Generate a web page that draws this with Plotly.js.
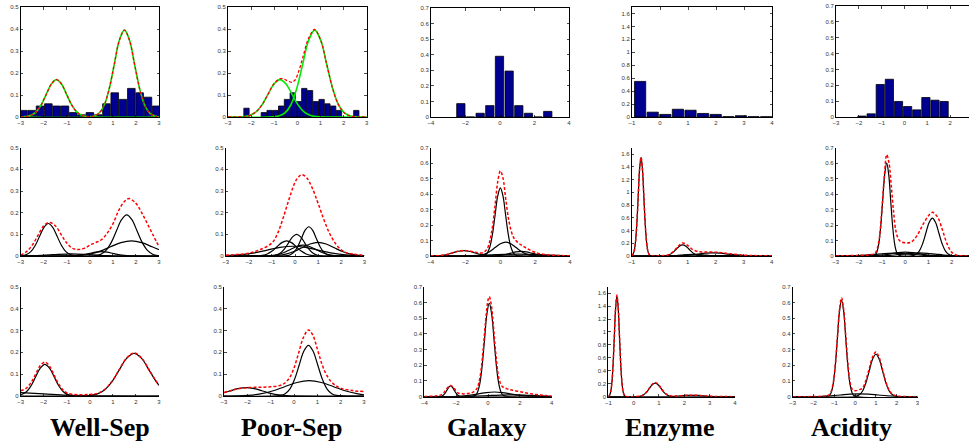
<!DOCTYPE html>
<html><head><meta charset="utf-8">
<script src="https://cdn.plot.ly/plotly-3.0.1.min.js"></script>
<style>html,body{margin:0;padding:0;background:#fff;}#chart{width:969px;height:441px;}</style>
</head><body><div id="chart"></div>
<script>
// ================= DATA =================
const titles = ["Well-Sep", "Poor-Sep", "Galaxy", "Enzyme", "Acidity"];

// ---- Row 1: histograms + true components ----
const wsHistX = [-2.88,-2.52,-2.16,-1.80,-1.44,-1.08,-0.72,-0.36,0,0.36,0.72,1.08,1.44,1.80,2.16,2.52,2.88];
const wsHistY = [0.03,0.03,0.05,0.06,0.05,0.05,0.02,0.01,0.02,0.01,0.06,0.11,0.08,0.13,0.11,0.09,0.05];
const wsG1X = [-3,-2.77,-2.55,-2.33,-2.11,-1.89,-1.67,-1.45,-1.23,-1.01,-0.79,-0.57,-0.35,-0.13,3];
const wsG1Y = [0.0003,0.0019,0.0075,0.0230,0.0552,0.1031,0.1500,0.17,0.1500,0.1031,0.0552,0.0230,0.0075,0.0019,0];
const wsG2X = [-3,0.18,0.40,0.62,0.84,1.06,1.28,1.5,1.72,1.94,2.16,2.38,2.60,2.82,3];
const wsG2Y = [0,0.0044,0.0173,0.0534,0.1283,0.2396,0.3486,0.395,0.3486,0.2396,0.1283,0.0534,0.0173,0.0044,0.0012];
const wsTrueX = [-3,-2.77,-2.55,-2.33,-2.11,-1.89,-1.67,-1.45,-1.23,-1.01,-0.79,-0.57,-0.35,-0.13,0.18,0.40,0.62,0.84,1.06,1.28,1.5,1.72,1.94,2.16,2.38,2.60,2.82,3];
const wsTrueY = [0.0003,0.0019,0.0075,0.0230,0.0552,0.1031,0.1500,0.17,0.1500,0.1031,0.0552,0.0230,0.0075,0.0020,0.0045,0.0173,0.0534,0.1283,0.2396,0.3486,0.395,0.3486,0.2396,0.1283,0.0534,0.0173,0.0044,0.0012];

const psHistX = [-2.2,-1.45,-1.2,-0.95,-0.7,-0.45,-0.2,0.05,0.3,0.55,0.8,1.05,1.3,1.55,1.8,2.55];
const psHistY = [0.04,0.02,0.03,0.03,0.05,0.08,0.11,0.07,0.13,0.12,0.07,0.08,0.06,0.05,0.03,0.03];
const psG1X = [-3,-2.31,-2.05,-1.79,-1.53,-1.27,-1.01,-0.75,-0.49,-0.23,0.03,0.29,0.55,0.81,3];
const psG1Y = [0,0.0019,0.0075,0.0230,0.0552,0.1031,0.1500,0.17,0.1500,0.1031,0.0552,0.0230,0.0075,0.0019,0];
const psG2X = [-3,-0.81,-0.55,-0.29,-0.03,0.23,0.49,0.75,1.01,1.27,1.53,1.79,2.05,2.31,3];
const psG2Y = [0,0.0044,0.0173,0.0534,0.1283,0.2396,0.3486,0.395,0.3486,0.2396,0.1283,0.0534,0.0173,0.0044,0];
const psTrueX = [-3,-2.31,-2.05,-1.79,-1.53,-1.27,-1.01,-0.75,-0.55,-0.4,-0.25,-0.1,0.05,0.23,0.49,0.75,1.01,1.27,1.53,1.79,2.05,2.31,3];
const psTrueY = [0,0.0019,0.0075,0.023,0.0552,0.1033,0.1513,0.174,0.171,0.163,0.158,0.168,0.205,0.268,0.3586,0.3977,0.3491,0.2396,0.1283,0.0534,0.0173,0.0044,0];

const gaHistX = [-2.27,-1.71,-1.15,-0.59,-0.03,0.53,1.09,1.65,2.21,2.77];
const gaHistY = [0.086,0,0.024,0.073,0.39,0.295,0.073,0.024,0,0.036];

const enHistX = [-0.71,-0.26,0.19,0.64,1.09,1.54,1.99,2.44,2.89,3.34,3.79];
const enHistY = [0.55,0.075,0.04,0.12,0.105,0.055,0.04,0.005,0.02,0.005,0.004];

const acHistX = [-1.86,-1.46,-1.06,-0.66,-0.26,0.14,0.54,0.94,1.34,1.74];
const acHistY = [0.006,0.02,0.205,0.238,0.098,0.066,0.045,0.123,0.106,0.098];

// ---- Row 2: first fitted mixture (red = density, black = components) ----
const ws2RedX = [-3,-2.75,-2.5,-2.25,-2,-1.75,-1.5,-1.25,-1,-0.75,-0.5,-0.25,0,0.25,0.5,0.75,1,1.25,1.5,1.7,2,2.25,2.5,2.75,3];
const ws2RedY = [0.005,0.02,0.05,0.095,0.14,0.155,0.14,0.10,0.06,0.035,0.03,0.035,0.05,0.062,0.075,0.105,0.148,0.21,0.252,0.265,0.243,0.2,0.148,0.095,0.043];
const ws2AX = [-3,-2.75,-2.56,-2.37,-2.18,-1.99,-1.8,-1.61,-1.42,-1.23,-1.04,-0.85,-0.66,3];
const ws2AY = [0.001,0.0066,0.0203,0.0487,0.0910,0.1324,0.15,0.1324,0.0910,0.0487,0.0203,0.0066,0.0017,0];
const ws2BX = [-3,0.25,0.475,0.7,0.925,1.15,1.375,1.6,1.825,2.05,2.275,2.5,2.725,2.95,3];
const ws2BY = [0,0.0021,0.0083,0.0257,0.0617,0.1152,0.1677,0.19,0.1677,0.1152,0.0617,0.0257,0.0083,0.0021,0.0017];
const ws2CX = [-3,-0.9,-0.45,0,0.45,0.9,1.35,1.8,2.25,2.7,3];
const ws2CY = [0,0.0008,0.0031,0.0095,0.0227,0.0425,0.0618,0.07,0.0618,0.0425,0.0288];
const ws2DX = [-3,-1,-0.75,-0.5,-0.25,0,0.25,0.5,0.75,1,1.25,1.5,1.75,2,3];
const ws2DY = [0,0.0002,0.0009,0.0027,0.0065,0.0121,0.0176,0.02,0.0176,0.0121,0.0065,0.0027,0.0009,0.0002,0];
const ws2EX = [-3,-2.4,-1.6,-0.8,0,0.8,1.6,3];
const ws2EY = [0.0002,0.0014,0.0061,0.01,0.0061,0.0014,0.0002,0];

const ps2RedX = [-3,-2.5,-2,-1.5,-1,-0.75,-0.5,-0.25,0,0.15,0.3,0.5,0.75,1,1.25,1.5,1.75,2,2.25,2.5,3];
const ps2RedY = [0.004,0.007,0.013,0.03,0.06,0.105,0.18,0.265,0.34,0.365,0.375,0.362,0.313,0.243,0.168,0.104,0.058,0.029,0.014,0.009,0.003];
const ps2K1X = [-3,-0.36,-0.2,-0.04,0.12,0.28,0.44,0.6,0.76,0.92,1.08,1.24,1.40,1.56,3];
const ps2K1Y = [0,0.0015,0.0059,0.0183,0.0438,0.0819,0.1191,0.135,0.1191,0.0819,0.0438,0.0183,0.0059,0.0015,0];
const ps2K2X = [-3,-0.98,-0.805,-0.63,-0.455,-0.28,-0.105,0.07,0.245,0.42,0.595,0.77,0.945,1.12,3];
const ps2K2Y = [0,0.0011,0.0044,0.0135,0.0325,0.0607,0.0883,0.10,0.0883,0.0607,0.0325,0.0135,0.0044,0.0011,0];
const ps2K3X = [-3,-1.62,-1.41,-1.2,-0.99,-0.78,-0.57,-0.36,-0.15,0.06,0.27,0.48,0.69,0.90,3];
const ps2K3Y = [0,0.0008,0.0031,0.0095,0.0227,0.0425,0.0618,0.07,0.0618,0.0425,0.0227,0.0095,0.0031,0.0008,0];
const ps2K4X = [-3,-1.1,-0.75,-0.4,-0.05,0.3,0.65,1.0,1.35,1.7,2.05,2.4,2.75,3];
const ps2K4Y = [0,0.0007,0.0028,0.0085,0.0205,0.0382,0.0556,0.063,0.0556,0.0382,0.0205,0.0085,0.0028,0.0011];
const ps2K5X = [-3,-2.3,-1.75,-1.2,-0.65,-0.1,0.45,1.0,1.55,2.1,2.65,3];
const ps2K5Y = [0.0014,0.0061,0.0146,0.0273,0.0397,0.045,0.0397,0.0273,0.0146,0.0061,0.002,0.0008];
const ps2K6X = [-3,-1.3,-1.025,-0.75,-0.475,-0.2,0.075,0.35,0.625,0.9,1.175,1.45,1.725,2.0,3];
const ps2K6Y = [0,0.0006,0.0022,0.0068,0.0162,0.0303,0.0441,0.05,0.0441,0.0303,0.0162,0.0068,0.0022,0.0006,0];

const ga2RedX = [-4,-3.5,-3,-2.5,-2.1,-1.7,-1.3,-1,-0.75,-0.5,-0.3,-0.15,0,0.15,0.3,0.5,0.75,1,1.25,1.5,2,2.5,3,3.5,4];
const ga2RedY = [0.001,0.0024,0.0117,0.0288,0.0364,0.0308,0.0207,0.0217,0.0479,0.1555,0.331,0.48,0.55,0.505,0.3774,0.2214,0.1216,0.0876,0.0674,0.0501,0.0235,0.0102,0.0052,0.003,0.0016];
const ga2AX = [-4,-0.9,-0.75,-0.6,-0.45,-0.3,-0.15,0,0.15,0.3,0.45,0.6,0.75,0.9,4];
const ga2AY = [0,0.0049,0.0193,0.0595,0.1429,0.2669,0.3883,0.44,0.3883,0.2669,0.1429,0.0595,0.0193,0.0049,0];
const ga2BX = [-4,-1.5,-1.2,-0.9,-0.6,-0.3,0,0.3,0.6,0.9,1.2,1.5,1.8,2.1,4];
const ga2BY = [0,0.001,0.004,0.0122,0.0292,0.0546,0.0794,0.09,0.0794,0.0546,0.0292,0.0122,0.004,0.001,0];
const ga2CX = [-4,-3.6,-3.3,-3,-2.7,-2.4,-2.1,-1.8,-1.5,-1.2,-0.9,-0.6,-0.3,4];
const ga2CY = [0.0002,0.0015,0.0047,0.0114,0.0212,0.0309,0.035,0.0309,0.0212,0.0114,0.0047,0.0015,0.0004,0];
const ga2DX = [-4,-0.6,-0.3,0,0.3,0.6,0.9,1.2,1.5,1.8,2.1,2.4,2.7,3,4];
const ga2DY = [0,0.0003,0.0013,0.0041,0.0097,0.0182,0.0265,0.03,0.0265,0.0182,0.0097,0.0041,0.0013,0.0003,0];
const ga2EX = [-4,-3.5,-2.75,-2,-1.25,-0.5,0.25,1,1.75,2.5,3.25,4];
const ga2EY = [0,0.0001,0.0005,0.0016,0.0039,0.0073,0.0106,0.012,0.0106,0.0073,0.0039,0.0016];

const en2RedX = [-1,-0.967,-0.917,-0.867,-0.817,-0.767,-0.717,-0.667,-0.617,-0.567,-0.517,-0.467,-0.417,-0.367,-0.3,0,0.3,0.5,0.65,0.82,1,1.2,1.4,1.6,1.9,2.2,2.5,3,3.5,4];
const en2RedY = [0.006,0.0172,0.068,0.2097,0.5033,0.9401,1.3679,1.55,1.3679,0.9401,0.5033,0.2097,0.068,0.0172,0.0021,0.003,0.017,0.075,0.148,0.205,0.167,0.095,0.067,0.064,0.062,0.052,0.036,0.014,0.0056,0.0026];
const en2MX = [-1,-0.967,-0.917,-0.867,-0.817,-0.767,-0.717,-0.667,-0.617,-0.567,-0.517,-0.467,-0.417,-0.367,-0.3,4];
const en2MY = [0.006,0.0172,0.068,0.2097,0.5033,0.9401,1.3679,1.55,1.3679,0.9401,0.5033,0.2097,0.068,0.0172,0.0019,0];
const en2K2X = [-1,0.13,0.245,0.36,0.475,0.59,0.705,0.82,0.935,1.05,1.165,1.28,1.395,1.51,4];
const en2K2Y = [0,0.0019,0.0077,0.0237,0.0568,0.1061,0.1544,0.175,0.1544,0.1061,0.0568,0.0237,0.0077,0.0019,0];
const en2K3X = [-1,0.25,0.525,0.8,1.075,1.35,1.625,1.9,2.175,2.45,2.725,3,3.275,3.55,4];
const en2K3Y = [0,0.0006,0.0022,0.0068,0.0162,0.0303,0.0441,0.05,0.0441,0.0303,0.0162,0.0068,0.0022,0.0006,0];
const en2K4X = [-1,0,0.2,0.4,0.6,0.8,1,1.2,1.4,1.6,1.8,2,2.2,2.4,4];
const en2K4Y = [0,0.0003,0.0011,0.0034,0.0081,0.0152,0.0221,0.025,0.0221,0.0152,0.0081,0.0034,0.0011,0.0003,0];
const en2K5X = [-1,-0.5,0,0.5,1,1.5,2,2.5,3,3.5,4];
const en2K5Y = [0,0.0001,0.0004,0.0011,0.0026,0.0049,0.0071,0.008,0.0071,0.0049,0.0026];

const ac2RedX = [-3,-2.5,-2,-1.5,-1.3,-1.15,-1,-0.9,-0.8,-0.7,-0.6,-0.5,-0.4,-0.25,0,0.25,0.5,0.75,1,1.17,1.4,1.6,1.8,2,2.2,2.5,3];
const ac2RedY = [0,0.002,0.004,0.008,0.018,0.085,0.32,0.52,0.655,0.6,0.45,0.28,0.16,0.1,0.085,0.09,0.13,0.2,0.26,0.282,0.25,0.17,0.08,0.025,0.006,0.001,0];
const ac2P1X = [-3,-1.31,-1.225,-1.14,-1.055,-0.97,-0.885,-0.8,-0.715,-0.63,-0.545,-0.46,-0.375,-0.29,3];
const ac2P1Y = [0,0.0067,0.0263,0.0812,0.1948,0.3639,0.5295,0.6,0.5295,0.3639,0.1948,0.0812,0.0263,0.0067,0];
const ac2P2X = [-3,0.33,0.47,0.61,0.75,0.89,1.03,1.17,1.31,1.45,1.59,1.73,1.87,2.01,3];
const ac2P2Y = [0,0.0027,0.0108,0.0331,0.0796,0.1486,0.2162,0.245,0.2162,0.1486,0.0796,0.0331,0.0108,0.0027,0];
const ac2Q1X = [-3,-1.8,-1.5,-1.2,-0.9,-0.6,-0.3,0,0.3,0.6,0.9,1.2,1.5,1.8,3];
const ac2Q1Y = [0,0.0003,0.0011,0.0034,0.0081,0.0152,0.0221,0.025,0.0221,0.0152,0.0081,0.0034,0.0011,0.0003,0];
const ac2Q2X = [-3,-1.5,-1.15,-0.8,-0.45,-0.1,0.25,0.6,0.95,1.3,1.65,2,2.35,2.7,3];
const ac2Q2Y = [0,0.0002,0.0009,0.0027,0.0065,0.0121,0.0176,0.02,0.0176,0.0121,0.0065,0.0027,0.0009,0.0002,0];
const ac2Q3X = [-3,-2.5,-2.1,-1.7,-1.3,-0.9,-0.5,-0.1,0.3,0.7,1.1,1.5,1.9,3];
const ac2Q3Y = [0.0001,0.0008,0.0024,0.0058,0.0109,0.0159,0.018,0.0159,0.0109,0.0058,0.0024,0.0008,0.0002,0];

// ---- Row 3: second fitted mixture ----
const ws3RedX = [-3,-2.75,-2.55,-2.35,-2.15,-1.95,-1.75,-1.55,-1.35,-1.15,-0.95,-0.5,0,0.3,0.62,0.945,1.27,1.595,1.92,2.245,2.57,2.895,3];
const ws3RedY = [0.024,0.036,0.062,0.1,0.139,0.155,0.137,0.096,0.054,0.026,0.012,0.006,0.007,0.011,0.028,0.065,0.12,0.174,0.197,0.174,0.12,0.065,0.051];
const ws3AX = [-3,-2.75,-2.55,-2.35,-2.15,-1.95,-1.75,-1.55,-1.35,-1.15,-0.95,-0.75,3];
const ws3AY = [0.0046,0.0196,0.0471,0.0879,0.128,0.145,0.128,0.0879,0.0471,0.0196,0.0064,0.0016,0];
const ws3BX = [-3,-0.03,0.295,0.62,0.945,1.27,1.595,1.92,2.245,2.57,2.895,3];
const ws3BY = [0,0.0022,0.0086,0.0264,0.0633,0.1183,0.1721,0.195,0.1721,0.1183,0.0633,0.0491];
const ws3CX = [-3,-2,-1,0,1,3];
const ws3CY = [0.0151,0.0097,0.004,0.0011,0.0002,0];

const ps3RedX = [-3,-2.5,-2,-1.5,-1,-0.5,-0.2,0,0.2,0.4,0.62,0.8,1,1.2,1.4,1.6,1.8,2,2.5,3];
const ps3RedY = [0.016,0.031,0.038,0.04,0.042,0.052,0.082,0.128,0.197,0.267,0.302,0.28,0.215,0.145,0.095,0.065,0.047,0.036,0.025,0.02];
const ps3K1X = [-3,-0.58,-0.38,-0.18,0.02,0.22,0.42,0.62,0.82,1.02,1.22,1.42,1.62,1.82,3];
const ps3K1Y = [0,0.0026,0.0102,0.0314,0.0753,0.1407,0.2047,0.232,0.2047,0.1407,0.0753,0.0314,0.0102,0.0026,0];
const ps3K2X = [-3,-2.5,-1.975,-1.45,-0.925,-0.4,0.125,0.65,1.175,1.7,2.225,2.75,3];
const ps3K2Y = [0,0.0008,0.0031,0.0095,0.0227,0.0425,0.0618,0.07,0.0618,0.0425,0.0227,0.0095,0.0057];
const ps3K3X = [-3,-2.75,-2.4,-2.05,-1.7,-1.35,-1,-0.65,-0.3,0.05,3];
const ps3K3Y = [0.0151,0.023,0.0335,0.038,0.0335,0.023,0.0123,0.0051,0.0017,0.0004,0];

const ga3RedX = [-4,-3.3,-3,-2.8,-2.6,-2.35,-2.1,-1.9,-1.6,-1.3,-1,-0.7,-0.5,-0.3,-0.15,0,0.08,0.2,0.35,0.5,0.7,0.9,1.2,1.5,2,2.5,3,3.5,4];
const ga3RedY = [0.002,0.004,0.01,0.022,0.05,0.072,0.05,0.025,0.018,0.02,0.026,0.052,0.126,0.303,0.482,0.614,0.637,0.59,0.438,0.264,0.11,0.065,0.05,0.042,0.032,0.022,0.014,0.008,0.004];
const ga3AX = [-4,-0.82,-0.67,-0.52,-0.37,-0.22,-0.07,0.08,0.23,0.38,0.53,0.68,0.83,0.98,4];
const ga3AY = [0,0.0066,0.0261,0.0805,0.1932,0.3609,0.5251,0.595,0.5251,0.3609,0.1932,0.0805,0.0261,0.0066,0];
const ga3BX = [-4,-3.04,-2.925,-2.81,-2.695,-2.58,-2.465,-2.35,-2.235,-2.12,-2.005,-1.89,-1.775,-1.66,4];
const ga3BY = [0,0.0008,0.003,0.0092,0.0221,0.0412,0.06,0.068,0.06,0.0412,0.0221,0.0092,0.003,0.0008,0];
const ga3CX = [-4,-2.6,-2.1,-1.6,-1.1,-0.6,-0.1,0.4,0.9,1.4,1.9,2.4,2.9,3.4,4];
const ga3CY = [0,0.0003,0.0013,0.0041,0.0097,0.0182,0.0265,0.03,0.0265,0.0182,0.0097,0.0041,0.0013,0.0003,0];
const ga3DX = [-4,-3,-2.25,-1.5,-0.75,0,0.75,1.5,2.25,3,3.75,4];
const ga3DY = [0,0.0001,0.0005,0.0016,0.0039,0.0073,0.0106,0.012,0.0106,0.0073,0.0039,0.003];

const en3RedX = [-1,-0.96,-0.91,-0.86,-0.81,-0.76,-0.71,-0.66,-0.61,-0.56,-0.51,-0.46,-0.41,-0.36,-0.3,0,0.275,0.39,0.505,0.62,0.735,0.85,0.965,1.08,1.195,1.31,1.425,1.54,1.8,2.1,2.3,2.5,2.8,3.2,3.6,4];
const en3RedY = [0.0048,0.0173,0.0685,0.2111,0.5065,0.9461,1.3767,1.57,1.3767,0.9461,0.5065,0.2111,0.0685,0.0173,0.003,0.001,0.01,0.03,0.071,0.133,0.193,0.219,0.194,0.134,0.074,0.034,0.016,0.01,0.013,0.021,0.024,0.022,0.014,0.005,0.002,0.001];
const en3MX = [-1,-0.96,-0.91,-0.86,-0.81,-0.76,-0.71,-0.66,-0.61,-0.56,-0.51,-0.46,-0.41,-0.36,-0.3,4];
const en3MY = [0.0048,0.0173,0.0685,0.2111,0.5065,0.9461,1.3767,1.56,1.3767,0.9461,0.5065,0.2111,0.0685,0.0173,0.0024,0];
const en3K2X = [-1,0.16,0.275,0.39,0.505,0.62,0.735,0.85,0.965,1.08,1.195,1.31,1.425,1.54,4];
const en3K2Y = [0,0.0023,0.0092,0.0284,0.0682,0.1274,0.1853,0.21,0.1853,0.1274,0.0682,0.0284,0.0092,0.0023,0];
const en3K3X = [-1,0.95,1.175,1.4,1.625,1.85,2.075,2.3,2.525,2.75,2.975,3.2,3.425,3.65,4];
const en3K3Y = [0,0.0002,0.001,0.003,0.0071,0.0133,0.0194,0.022,0.0194,0.0133,0.0071,0.003,0.001,0.0002,0];

const ac3RedX = [-3,-2.5,-2,-1.5,-1.25,-1.15,-1.05,-0.95,-0.85,-0.75,-0.65,-0.55,-0.45,-0.35,-0.25,-0.15,0,0.2,0.36,0.52,0.68,0.84,1,1.16,1.32,1.48,1.64,1.8,2,2.3,3];
const ac3RedY = [0.0001,0.0002,0.001,0.003,0.0117,0.0328,0.09,0.2076,0.382,0.553,0.63,0.5555,0.387,0.2147,0.0991,0.05,0.038,0.045,0.0542,0.1046,0.1795,0.2523,0.285,0.2485,0.1721,0.0943,0.0415,0.0156,0.0045,0.0012,0];
const ac3P1X = [-3,-1.25,-1.15,-1.05,-0.95,-0.85,-0.75,-0.65,-0.55,-0.45,-0.35,-0.25,-0.15,-0.05,3];
const ac3P1Y = [0,0.0068,0.027,0.0832,0.1997,0.373,0.5427,0.615,0.5427,0.373,0.1997,0.0832,0.027,0.0068,0];
const ac3P2X = [-3,0.04,0.2,0.36,0.52,0.68,0.84,1.0,1.16,1.32,1.48,1.64,1.8,1.96,3];
const ac3P2Y = [0,0.003,0.0119,0.0365,0.0877,0.1638,0.2383,0.27,0.2383,0.1638,0.0877,0.0365,0.0119,0.003,0];
const ac3QX = [-3,-2.5,-2.05,-1.6,-1.15,-0.7,-0.25,0.2,0.65,1.1,1.55,2.0,2.45,2.9,3];
const ac3QY = [0,0.0002,0.0008,0.0024,0.0058,0.0109,0.0159,0.018,0.0159,0.0109,0.0058,0.0024,0.0008,0.0002,0];

// ================= LAYOUT GEOMETRY (pixels) =================
const W = 969, H = 441;
const geo = [
  [20.7,159,7,117],[228,366.7,7,117],[431,569,8,117],[632,772,7,117],[836,969,6,117],
  [20.7,159,147.7,256],[225.7,364.3,147.7,256],[430.7,570,147.7,256],[631.7,771.7,147.7,256],[835.7,969,147.7,256],
  [20.7,159,286.7,396],[224,364,286.7,396],[424.3,551.7,286.7,396.7],[608.3,735,286.7,396.7],[792.7,917.5,286.7,396.7]
];
const xRanges = [[-3,3],[-3,3],[-4,4],[-1,4],[-3,2.83],
                 [-3,3],[-3,3],[-4,4],[-1,4],[-3,2.75],
                 [-3,3],[-3,3],[-4,4],[-1,4],[-3,3]];
const xDt = [1,1,2,1,1];
const yRanges = [[0,0.5],[0,0.5],[0,0.7],[0,1.7],[0,0.7]];
const yDt = [0.1,0.1,0.1,0.2,0.1];

const traces = [];
function curve(x, y, k, color, dash, width) {
  traces.push({type:'scatter', mode:'lines', x:x, y:y, xaxis:'x'+k, yaxis:'y'+k,
    line:{color:color, width:width, dash:dash, shape:'spline', smoothing:1},
    hoverinfo:'skip', showlegend:false});
}
function bars(x, y, k, w) {
  traces.push({type:'bar', x:x, y:y, xaxis:'x'+k, yaxis:'y'+k, width:w,
    marker:{color:'#000090', line:{color:'#000000', width:0.8}}, hoverinfo:'skip', showlegend:false});
}
const GREEN = 'rgb(0,235,0)', RED = '#ff0000', BLK = '#000000';
const RDASH = '3px,2px';

// Row 1
bars(wsHistX, wsHistY, 1, 0.33);
curve(wsG1X, wsG1Y, 1, GREEN, 'solid', 1.6);
curve(wsG2X, wsG2Y, 1, GREEN, 'solid', 1.6);
curve(wsTrueX, wsTrueY, 1, RED, RDASH, 1.3);
bars(psHistX, psHistY, 2, 0.23);
curve(psG1X, psG1Y, 2, GREEN, 'solid', 1.6);
curve(psG2X, psG2Y, 2, GREEN, 'solid', 1.6);
curve(psTrueX, psTrueY, 2, RED, RDASH, 1.3);
bars(gaHistX, gaHistY, 3, 0.48);
bars(enHistX, enHistY, 4, 0.4);
bars(acHistX, acHistY, 5, 0.36);

// Row 2
[[ws2AX,ws2AY],[ws2BX,ws2BY],[ws2CX,ws2CY],[ws2DX,ws2DY],[ws2EX,ws2EY]].forEach(c=>curve(c[0],c[1],6,BLK,'solid',1.2));
curve(ws2RedX, ws2RedY, 6, RED, RDASH, 1.5);
[[ps2K1X,ps2K1Y],[ps2K2X,ps2K2Y],[ps2K3X,ps2K3Y],[ps2K4X,ps2K4Y],[ps2K5X,ps2K5Y],[ps2K6X,ps2K6Y]].forEach(c=>curve(c[0],c[1],7,BLK,'solid',1.2));
curve(ps2RedX, ps2RedY, 7, RED, RDASH, 1.5);
[[ga2AX,ga2AY],[ga2BX,ga2BY],[ga2CX,ga2CY],[ga2DX,ga2DY],[ga2EX,ga2EY]].forEach(c=>curve(c[0],c[1],8,BLK,'solid',1.2));
curve(ga2RedX, ga2RedY, 8, RED, RDASH, 1.5);
[[en2MX,en2MY],[en2K2X,en2K2Y],[en2K3X,en2K3Y],[en2K4X,en2K4Y],[en2K5X,en2K5Y]].forEach(c=>curve(c[0],c[1],9,BLK,'solid',1.2));
curve(en2RedX, en2RedY, 9, RED, RDASH, 1.5);
[[ac2P1X,ac2P1Y],[ac2P2X,ac2P2Y],[ac2Q1X,ac2Q1Y],[ac2Q2X,ac2Q2Y],[ac2Q3X,ac2Q3Y]].forEach(c=>curve(c[0],c[1],10,BLK,'solid',1.2));
curve(ac2RedX, ac2RedY, 10, RED, RDASH, 1.5);

// Row 3
[[ws3AX,ws3AY],[ws3BX,ws3BY],[ws3CX,ws3CY]].forEach(c=>curve(c[0],c[1],11,BLK,'solid',1.2));
curve(ws3RedX, ws3RedY, 11, RED, RDASH, 1.5);
[[ps3K1X,ps3K1Y],[ps3K2X,ps3K2Y],[ps3K3X,ps3K3Y]].forEach(c=>curve(c[0],c[1],12,BLK,'solid',1.2));
curve(ps3RedX, ps3RedY, 12, RED, RDASH, 1.5);
[[ga3AX,ga3AY],[ga3BX,ga3BY],[ga3CX,ga3CY],[ga3DX,ga3DY]].forEach(c=>curve(c[0],c[1],13,BLK,'solid',1.2));
curve(ga3RedX, ga3RedY, 13, RED, RDASH, 1.5);
[[en3MX,en3MY],[en3K2X,en3K2Y],[en3K3X,en3K3Y]].forEach(c=>curve(c[0],c[1],14,BLK,'solid',1.2));
curve(en3RedX, en3RedY, 14, RED, RDASH, 1.5);
[[ac3P1X,ac3P1Y],[ac3P2X,ac3P2Y],[ac3QX,ac3QY]].forEach(c=>curve(c[0],c[1],15,BLK,'solid',1.2));
curve(ac3RedX, ac3RedY, 15, RED, RDASH, 1.5);

// ================= LAYOUT =================
const tickFont = {family:'Liberation Sans, Arial, sans-serif', size:6, color:'#333'};
const layout = {
  width:W, height:H, margin:{l:0,r:0,t:0,b:0}, paper_bgcolor:'#fff', plot_bgcolor:'rgba(0,0,0,0)',
  showlegend:false, barmode:'overlay', bargap:0,
  annotations: []
};
for (let i = 0; i < 15; i++) {
  const k = i + 1, row = Math.floor(i / 5), col = i % 5;
  const g = geo[i];
  const boxed = row === 0;
  layout['xaxis' + (k === 1 ? '' : k)] = {
    domain:[g[0]/W, g[1]/W], range:xRanges[i], anchor:'y'+k,
    tickmode:'linear', tick0:0, dtick:xDt[col], ticks:'inside', ticklen:2.5, tickwidth:0.7, tickcolor:'#000',
    showline:true, linecolor:'#000', linewidth:1, mirror: boxed ? 'ticks' : false,
    showgrid:false, zeroline:false, tickfont:tickFont, fixedrange:true
  };
  layout['yaxis' + (k === 1 ? '' : k)] = {
    domain:[1 - g[3]/H, 1 - g[2]/H], range:yRanges[col], anchor:'x'+k,
    tickmode:'linear', tick0:0, dtick:yDt[col], ticks:'inside', ticklen:2.5, tickwidth:0.7, tickcolor:'#000',
    showline:true, linecolor:'#000', linewidth:1, mirror: (boxed && col !== 4) ? 'ticks' : false,
    showgrid:false, zeroline:false, tickfont:tickFont, fixedrange:true
  };
}
const titleX = [100, 292, 486, 670, 851];
titles.forEach((t, j) => {
  layout.annotations.push({text:'<b>'+t+'</b>', xref:'paper', yref:'paper',
    x:titleX[j]/W, y:1 - 427/H, xanchor:'center', yanchor:'middle', showarrow:false,
    font:{family:'Liberation Serif, Times New Roman, serif', size:26, color:'#000'}});
});

Plotly.newPlot('chart', traces, layout, {staticPlot:true, displayModeBar:false});
</script>
</body></html>
